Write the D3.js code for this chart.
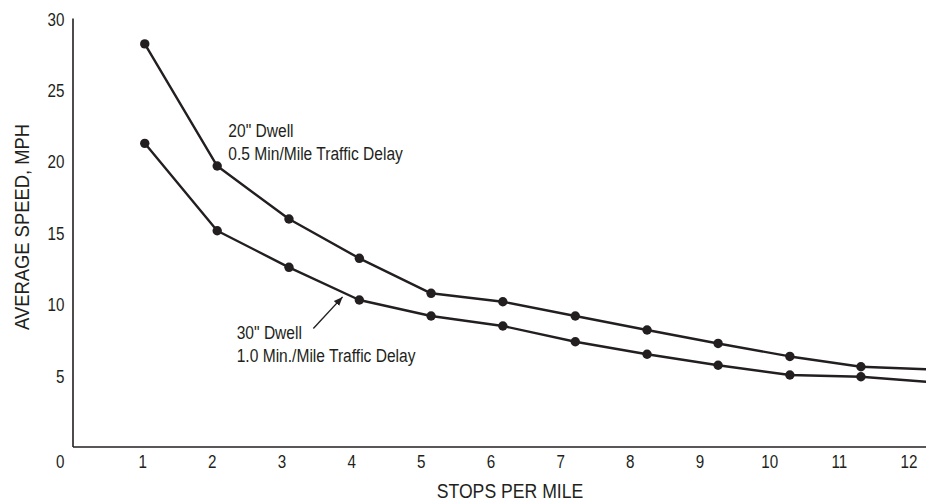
<!DOCTYPE html>
<html>
<head>
<meta charset="utf-8">
<script src="https://cdn.jsdelivr.net/npm/d3@7"></script>
<style>
  html, body { margin: 0; padding: 0; background: #ffffff; }
  svg { display: block; }
  text { font-family: "Liberation Sans", Arial, sans-serif; fill: #231f20; }
</style>
</head>
<body>
<svg id="chart" width="926" height="504"></svg>
<script>
// ---- data ----
const xTicks = [1, 2, 3, 4, 5, 6, 7, 8, 9, 10, 11, 12];
const yTicks = [5, 10, 15, 20, 25, 30];
const stops = [1.03, 2.07, 3.10, 4.11, 5.14, 6.17, 7.21, 8.24, 9.26, 10.29, 11.31, 12.34];
const speed20Dwell = [28.22, 19.67, 15.96, 13.21, 10.76, 10.17, 9.17, 8.19, 7.25, 6.34, 5.62, 5.42];
const speed30Dwell = [21.26, 15.14, 12.58, 10.29, 9.17, 8.47, 7.37, 6.49, 5.72, 5.04, 4.92, 4.53];
const label20 = ['20" Dwell', '0.5 Min/Mile Traffic Delay'];
const label30 = ['30" Dwell', '1.0 Min./Mile Traffic Delay'];
const xTitle = "STOPS PER MILE";
const yTitle = "AVERAGE SPEED, MPH";

const ink = "#231f20";
const W = 926, H = 504;
const svg = d3.select("#chart");

const x = d3.scaleLinear().domain([0, 12]).range([73, 909]);
const y = d3.scaleLinear().domain([0, 30]).range([447, 18.5]);

// condensed-looking text: regular sans compressed horizontally
function label(parent, px, py, lines, size, sx, anchor, rot, lead) {
  const g = parent.append("g")
    .attr("transform", `translate(${px},${py}) rotate(${rot || 0}) scale(${sx},1)`);
  const t = g.append("text").attr("font-size", size).attr("text-anchor", anchor || "start");
  [].concat(lines).forEach((l, i) => {
    t.append("tspan").attr("x", 0).attr("dy", i === 0 ? 0 : (lead || 0)).text(l);
  });
  return g;
}

// axes lines
svg.append("line")
  .attr("x1", x(0)).attr("x2", W)
  .attr("y1", y(0)).attr("y2", y(0))
  .attr("stroke", ink).attr("stroke-width", 1.6);
svg.append("line")
  .attr("x1", x(0)).attr("x2", x(0))
  .attr("y1", y(0)).attr("y2", y(30))
  .attr("stroke", ink).attr("stroke-width", 1.6);

// tick labels
const tickSize = 19, tickSx = 0.80;
xTicks.forEach(d => label(svg, x(d), y(0) + 20.5, String(d), tickSize, tickSx, "middle"));
yTicks.forEach(d => label(svg, x(0) - 8.5, y(d) + 7, String(d), tickSize, tickSx, "end"));
label(svg, x(0) - 8.5, y(0) + 20.5, "0", tickSize, tickSx, "end");

// titles
label(svg, 510, 498.3, xTitle, 20.5, 0.86, "middle");
label(svg, 29, 227, yTitle, 20, 0.92, "middle", -90);

// series
const line = d3.line().x(d => x(d[0])).y(d => y(d[1]));
const series = [speed20Dwell, speed30Dwell];
const plot = svg.append("g");
series.forEach(vals => {
  const pts = stops.map((s, i) => [s, vals[i]]);
  plot.append("path")
    .attr("d", line(pts))
    .attr("fill", "none").attr("stroke", ink).attr("stroke-width", 2.4)
    .attr("stroke-linejoin", "round");
  plot.append("g").selectAll("circle").data(pts).join("circle")
    .attr("cx", d => x(d[0])).attr("cy", d => y(d[1]))
    .attr("r", 4.7).attr("fill", ink);
});

// annotations
label(svg, x(2.23), y(21.68), label20, 19, 0.82, "start", 0, 22.8);
label(svg, x(2.35), y(7.55), label30, 19, 0.82, "start", 0, 22.8);

// arrow for 30" label
svg.append("defs").append("marker")
  .attr("id", "arrowhead")
  .attr("viewBox", "0 0 10 10")
  .attr("refX", 10).attr("refY", 5)
  .attr("markerWidth", 9).attr("markerHeight", 9)
  .attr("markerUnits", "userSpaceOnUse")
  .attr("orient", "auto")
  .append("path").attr("d", "M0,1 L10,5 L0,9 Z").attr("fill", ink);
svg.append("line")
  .attr("x1", x(3.45)).attr("y1", y(8.30))
  .attr("x2", x(3.87)).attr("y2", y(10.51))
  .attr("stroke", ink).attr("stroke-width", 1.4)
  .attr("marker-end", "url(#arrowhead)");
</script>
</body>
</html>
